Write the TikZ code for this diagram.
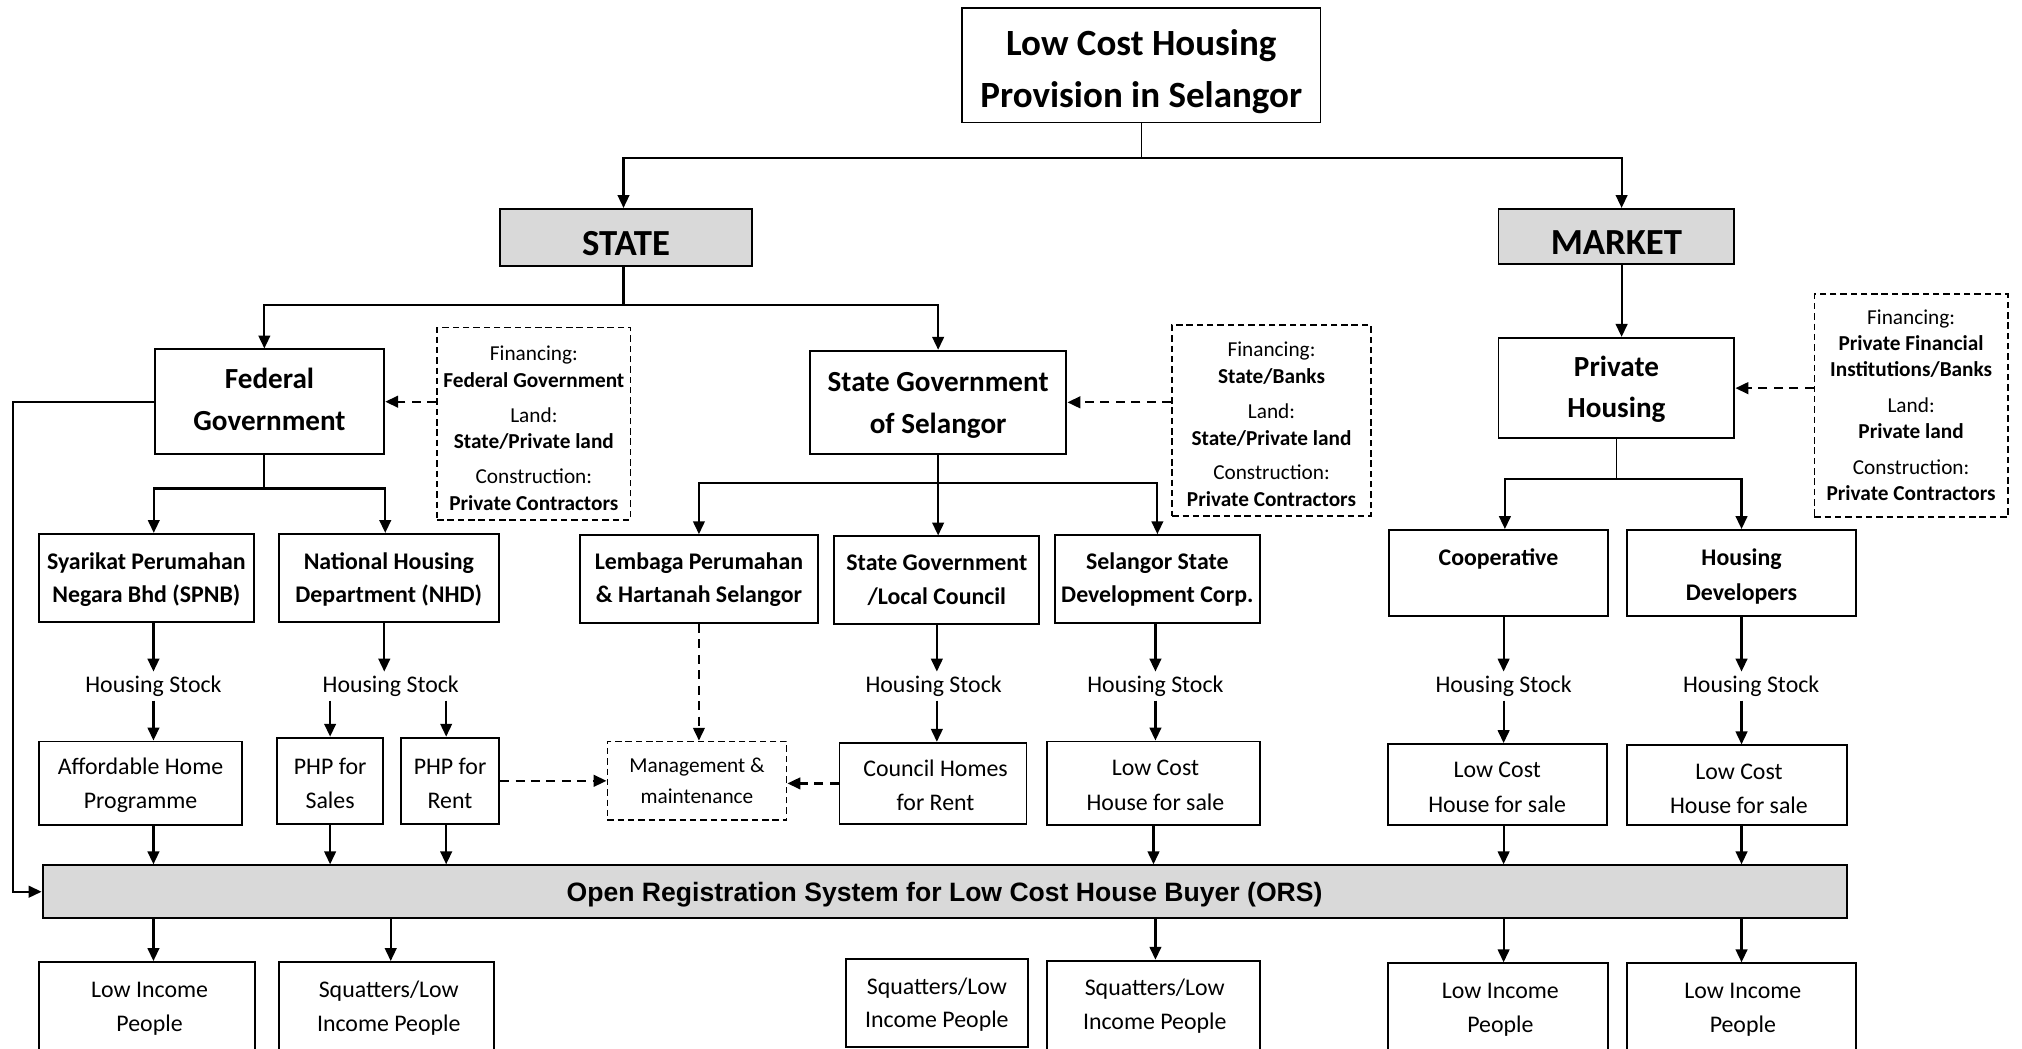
\documentclass[tikz,border=0pt]{standalone}
\usepackage{fontspec}
\setmainfont{Carlito}
\newfontfamily\arialfont{Liberation Sans}
\usetikzlibrary{arrows.meta}
\definecolor{boxgray}{HTML}{D9D9D9}
\newcommand\fsz[2]{\fontsize{#1}{#2}\selectfont}
% text with fixed top/bottom struts; #1 lowers the text by half its value
\newcommand\tx[2]{\rule{0pt}{\dimexpr0.98em#1\relax}#2\rule[-0.28em]{0pt}{0.28em}}
\tikzset{
  geom/.style n args={4}{minimum width={#3-#1}, minimum height={#4-#2}, at={({(#1+#3)/2},{(#2+#4)/2})}},
  bx/.style={draw, line width=1.5pt, inner sep=0pt, align=center, font=\fsz{18.5}{26.5}},
  bbx/.style={bx, font=\fsz{18.5}{26}\bfseries},
  gbx/.style={bx, fill=boxgray, font=\fsz{28.5}{34}\bfseries},
  midbx/.style={bx, font=\fsz{22.6}{33}\bfseries},
  dbox/.style={draw, line width=1.3pt, dash pattern=on 5pt off 3pt, inner sep=0pt, align=center, font=\fsz{16.5}{20.7}},
  hstock/.style={inner sep=3pt, font=\fsz{18.5}{22}},
  arr/.style={line width=1.7pt, -{Triangle[length=10pt,width=9pt]}},
  stem/.style={line width=1pt},
  darr/.style={line width=1.8pt, dash pattern=on 7pt off 5pt, -{Triangle[length=10pt,width=9pt]}}
}
\begin{document}
\begin{tikzpicture}[x=1pt,y=-1pt]
\useasboundingbox (0,0) rectangle (1568,813);
\clip (0,0) rectangle (1568,813);

% top level
\node[bx, geom={746}{6}{1024}{95}, font=\fsz{28.7}{40}\bfseries] (top) {\tx{+5pt}{Low Cost Housing\\Provision in Selangor}};
\node[gbx, geom={388}{163}{583}{205}] (state) {\tx{+8pt}{STATE}};
\node[gbx, geom={1162}{162}{1345}{205}] (market) {\tx{+7pt}{MARKET}};

% second level
\node[midbx, geom={120}{271}{298}{352}] (fed) {\tx{-4pt}{Federal\\Government}};
\node[midbx, geom={628}{272}{827}{352}] (sgs) {\tx{+0pt}{State Government\\of Selangor}};
\node[midbx, geom={1162}{262}{1345}{340}, font=\fsz{22.6}{32}\bfseries] (ph) {\tx{-2pt}{Private\\Housing}};

% financing boxes
\node[dbox, geom={339}{254}{489}{403}] (fin1) {\tx{+7pt}{Financing:\\\textbf{Federal Government}\\[6.3pt]Land:\\\textbf{State/Private land}\\[6.3pt]Construction:\\\textbf{Private Contractors}}};
\node[dbox, geom={909}{252}{1063}{400}] (fin2) {\tx{+6pt}{Financing:\\\textbf{State/Banks}\\[6.3pt]Land:\\\textbf{State/Private land}\\[6.3pt]Construction:\\\textbf{Private Contractors}}};
\node[dbox, geom={1407}{228}{1557}{401}, font=\fsz{16.5}{20}] (fin3) {\tx{-1pt}{Financing:\\\textbf{Private Financial}\\\textbf{Institutions/Banks}\\[8pt]Land:\\\textbf{Private land}\\[8pt]Construction:\\\textbf{Private Contractors}}};

% third level
\node[bbx, geom={30}{414}{197}{482}] (spnb) {\tx{+0pt}{Syarikat Perumahan\\Negara Bhd (SPNB)}};
\node[bbx, geom={216}{414}{387}{482}] (nhd) {\tx{+0pt}{National Housing\\Department (NHD)}};
\node[bbx, geom={450}{415}{634}{483}] (lem) {\tx{-2pt}{Lembaga Perumahan\\\& Hartanah Selangor}};
\node[bbx, geom={647}{416}{806}{484}] (slc) {\tx{-2pt}{State Government\\/Local Council}};
\node[bbx, geom={818}{415}{977}{483}] (ssdc) {\tx{-2pt}{Selangor State\\Development Corp.}};
\node[bbx, geom={1077}{411}{1247}{478}] (coop) {\tx{+1pt}{Cooperative\\\mbox{}}};
\node[bbx, geom={1262}{411}{1439}{478}, font=\fsz{18.5}{27}\bfseries] (hd) {\tx{+2pt}{Housing\\Developers}};

% housing stock labels
\node[hstock] (hs1) at (119,532) {Housing Stock};
\node[hstock] (hs2) at (303,532) {Housing Stock};
\node[hstock] (hs3) at (724,532) {Housing Stock};
\node[hstock] (hs4) at (896,532) {Housing Stock};
\node[hstock] (hs5) at (1166,532) {Housing Stock};
\node[hstock] (hs6) at (1358,532) {Housing Stock};

% fourth level
\node[bx, geom={30}{575}{188}{640}] (aff) {\tx{+0pt}{Affordable Home\\Programme}};
\node[bx, geom={215}{572}{297}{639}] (sales) {\tx{+3pt}{PHP for\\Sales}};
\node[bx, geom={311}{572}{387}{639}] (rent) {\tx{+3pt}{PHP for\\Rent}};
\node[dbox, geom={471}{575}{610}{636}, font=\fsz{16.5}{24}] (mgmt) {\tx{-1pt}{Management \&\\maintenance}};
\node[bx, geom={651}{576}{796}{639}] (council) {\tx{+3pt}{\hspace*{4pt}Council Homes\\\hspace*{4pt}for Rent}};
\node[bx, geom={812}{575}{977}{640}] (lc1) {\tx{+2pt}{\hspace*{3pt}Low Cost\\\hspace*{3pt}House for sale}};
\node[bx, geom={1076}{577}{1246}{640}] (lc2) {\tx{+3pt}{Low Cost\\House for sale}};
\node[bx, geom={1262}{578}{1432}{640}] (lc3) {\tx{+4pt}{\hspace*{3pt}Low Cost\\\hspace*{3pt}House for sale}};

% ORS
\node[bx, fill=boxgray, geom={33}{671}{1432}{712}, font=\arialfont\fontsize{20.6}{24}\selectfont\bfseries] (ors) {\tx{+1pt}{Open Registration System for Low Cost House Buyer (ORS)}};

% bottom
\node[bx, geom={30}{746}{198}{816}] (li1) {\tx{-2pt}{\hspace*{4pt}Low Income\\\hspace*{4pt}People}};
\node[bx, geom={216}{746}{383}{816}] (sq1) {\tx{-2pt}{\hspace*{4pt}Squatters/Low\\\hspace*{4pt}Income People}};
\node[bx, geom={656}{744}{797}{812}, font=\fsz{18.5}{25.5}] (sq2) {\tx{-1pt}{Squatters/Low\\Income People}};
\node[bx, geom={812}{745}{977}{816}] (sq3) {\tx{-3pt}{\hspace*{2pt}Squatters/Low\\\hspace*{2pt}Income People}};
\node[bx, geom={1076}{747}{1247}{817}] (li2) {\tx{-2pt}{\hspace*{4pt}Low Income\\\hspace*{4pt}People}};
\node[bx, geom={1262}{747}{1439}{817}] (li3) {\tx{-2pt}{\hspace*{2pt}Low Income\\\hspace*{2pt}People}};

% connectors: top
\draw[stem] (top.south) -- ++(0,27);
\draw[arr] (top.south) ++(0,27) -| ([xshift=-2pt]state.north);
\draw[arr] (top.south) ++(0,27) -| ([xshift=4pt]market.north);
\draw[arr] ([xshift=-2pt]state.south) -- ++(0,30) -| ([xshift=-4pt]fed.north);
\draw[arr] ([xshift=-2pt]state.south) -- ++(0,30) -| (sgs.north);
\draw[arr] ([xshift=4pt]market.south) -- ([xshift=4pt]market.south |- ph.north);

% financing
\draw[darr] (fin1.west |- fed.east) -- (fed.east);
\draw[darr] (fin2.west |- sgs.east) -- (sgs.east);
\draw[darr] (fin3.west |- ph.east) -- (ph.east);

% federal children
\draw[arr] ([xshift=-4pt]fed.south) -- ++(0,26) -| (spnb.north -| fed.west);
\draw[arr] ([xshift=-4pt]fed.south) -- ++(0,26) -| (nhd.north -| fed.east);
% state gov children
\draw[arr] (sgs.south) -- ++(0,22) -| (lem.north);
\draw[arr] (sgs.south) -- (sgs.south |- slc.north);
\draw[arr] (sgs.south) -- ++(0,22) -| (ssdc.north);
% private housing children
\draw[stem] (ph.south) -- ++(0,31);
\draw[arr] (ph.south) ++(0,31) -| ([xshift=5pt]coop.north);
\draw[arr] (ph.south) ++(0,31) -| (hd.north);

% to housing stock
\draw[arr] (hs1.north |- spnb.south) -- (hs1.north);
\draw[arr] ([xshift=-3.5pt]nhd.south) -- ([xshift=-3.5pt]nhd.south |- hs2.north);
\draw[arr] (slc.south) -- (slc.south |- hs3.north);
\draw[arr] (hs4.north |- ssdc.south) -- (hs4.north);
\draw[arr] (hs5.north |- coop.south) -- (hs5.north);
\draw[arr] (hd.south) -- (hd.south |- hs6.north);

% from housing stock
\draw[arr] (hs1.south) -- (hs1.south |- aff.north);
\draw[arr] (hs2.south -| sales.north) -- (sales.north);
\draw[arr] ([xshift=-3pt]hs2.south -| rent.north) -- ([xshift=-3pt]rent.north);
\draw[arr] (hs3.south -| slc.south) -- (slc.south |- council.north);
\draw[arr] (hs4.south) -- (hs4.south |- lc1.north);
\draw[arr] (hs5.south) -- (hs5.south |- lc2.north);
\draw[arr] (hs6.south -| hd.south) -- (hd.south |- lc3.north);

% management
\draw[darr] (lem.south) -- (lem.south |- mgmt.north);
\draw[darr] (rent.east) -- (rent.east -| mgmt.west);
\draw[darr] (council.west) -- (council.west -| mgmt.east);

% into ORS
\draw[arr] (hs1.south |- aff.south) -- (hs1.south |- ors.north);
\draw[arr] (sales.south) -- (sales.south |- ors.north);
\draw[arr] ([xshift=-3pt]rent.south) -- ([xshift=-3pt]rent.south |- ors.north);
\draw[arr] (lc1.south) -- (lc1.south |- ors.north);
\draw[arr] (hs5.south |- lc2.south) -- (hs5.south |- ors.north);
\draw[arr] (hd.south |- lc3.south) -- (hd.south |- ors.north);
\draw[arr] (fed.west) -- ++(-109,0) |- (ors.west);

% out of ORS
\draw[arr] (hs1.south |- ors.south) -- (hs1.south |- li1.north);
\draw[arr] (hs2.south |- ors.south) -- (hs2.south |- sq1.north);
\draw[arr] (hs4.south |- ors.south) -- (hs4.south |- sq3.north);
\draw[arr] (hs5.south |- ors.south) -- (hs5.south |- li2.north);
\draw[arr] (hd.south |- ors.south) -- (hd.south |- li3.north);
\end{tikzpicture}
\end{document}
